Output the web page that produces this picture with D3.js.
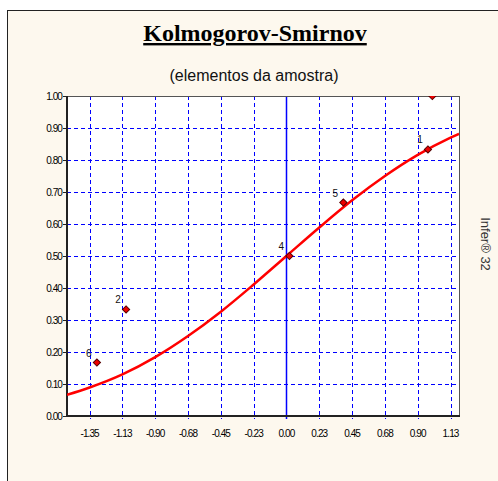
<!DOCTYPE html>
<html lang="en">
    <head>
        <meta charset="utf-8">
        <title>Kolmogorov-Smirnov</title>
        <script type="text/javascript" src="https://d3js.org/d3.v7.min.js"></script>
        <style type="text/css">
            body { margin: 0; background: #ffffff; }
        </style>
    </head>
    <body>
        <script type="text/javascript">

            //Width and height
            var w = 498;
            var h = 481;

            //Data - sample points (label, x, empirical y)
            var pointLabels = ["6", "2", "4", "5", "1", "3"];
            var pointX = [-1.30, -1.10, 0.02, 0.39, 0.97, 1.00];
            var pointY = [0.167, 0.333, 0.500, 0.667, 0.833, 1.000];

            //red curve
            var curveX = [-1.505, -1.35, -1.125, -0.9, -0.675, -0.45, -0.225, 0, 0.225, 0.45, 0.675, 0.9, 1.125, 1.183];
            var curveY = [0.066, 0.089, 0.130, 0.184, 0.250, 0.326, 0.411, 0.500, 0.589, 0.674, 0.750, 0.816, 0.870, 0.882];

            //ticks
            var xTicks = [-1.35, -1.125, -0.9, -0.675, -0.45, -0.225, 0, 0.225, 0.45, 0.675, 0.9, 1.125];
            var xTickLabels = ["-1.35", "-1.13", "-0.90", "-0.68", "-0.45", "-0.23", "0.00", "0.23", "0.45", "0.68", "0.90", "1.13"];
            var yTicks = [0, 0.1, 0.2, 0.3, 0.4, 0.5, 0.6, 0.7, 0.8, 0.9, 1.0];
            var yTickLabels = ["0.00", "0.10", "0.20", "0.30", "0.40", "0.50", "0.60", "0.70", "0.80", "0.90", "1.00"];

            //plot box (careful: "top" is taken by window.top)
            var pL = 67, pR = 459, pT = 96, pB = 416;

            var x = d3.scaleLinear().domain([-1.505, 1.183]).range([pL, pR]);
            var y = d3.scaleLinear().domain([0, 1]).range([pB, pT]);

            //Creates SVG element
            var svg = d3.select("body")
                        .append("svg")
                        .attr("width", w)
                        .attr("height", h);

            //cream background + frame
            svg.append("rect")
                .attr("x", 7.5).attr("y", 10.5)
                .attr("width", w).attr("height", h)
                .attr("fill", "#fdf8ee")
                .attr("stroke", "#222");

            //title
            svg.append("text")
                .attr("x", 255).attr("y", 41)
                .attr("text-anchor", "middle")
                .attr("font-family", "'Liberation Serif', serif")
                .attr("font-weight", "bold")
                .attr("font-size", 24)
                .attr("text-decoration", "underline")
                .attr("fill", "#000")
                .text("Kolmogorov-Smirnov");

            svg.append("text")
                .attr("x", 254).attr("y", 81)
                .attr("text-anchor", "middle")
                .attr("font-family", "'Liberation Sans', Arial, sans-serif")
                .attr("font-size", 16)
                .attr("fill", "#111")
                .text("(elementos da amostra)");

            //side text
            svg.append("text")
                .attr("transform", "translate(481,244) rotate(90)")
                .attr("text-anchor", "middle")
                .attr("font-family", "'Liberation Sans', Arial, sans-serif")
                .attr("font-size", 13)
                .attr("fill", "#333")
                .text("Infer\u00ae 32");

            //plot area
            svg.append("rect")
                .attr("x", pL).attr("y", pT)
                .attr("width", pR - pL).attr("height", pB - pT)
                .attr("fill", "#fff");

            svg.append("clipPath").attr("id", "clip")
                .append("rect")
                .attr("x", pL).attr("y", pT)
                .attr("width", pR - pL).attr("height", pB - pT);

            //grid
            svg.selectAll(".hgrid")
                .data(yTicks.slice(1, -1))
                .enter()
                .append("line")
                .attr("class", "hgrid")
                .attr("x1", pL).attr("x2", pR)
                .attr("y1", function(d) { return Math.round(y(d)) + 0.5; })
                .attr("y2", function(d) { return Math.round(y(d)) + 0.5; })
                .attr("stroke", "#0000ff")
                .attr("stroke-dasharray", "4,3");

            svg.selectAll(".vgrid")
                .data(xTicks)
                .enter()
                .append("line")
                .attr("class", "vgrid")
                .attr("x1", function(d) { return Math.round(x(d)) + 0.5; })
                .attr("x2", function(d) { return Math.round(x(d)) + 0.5; })
                .attr("y1", pT).attr("y2", pB + 3)
                .attr("stroke", "#0000ff")
                .attr("stroke-width", function(d) { return d === 0 ? 1.5 : 1; })
                .attr("stroke-dasharray", function(d) { return d === 0 ? null : "4,3"; });

            //border
            svg.append("rect")
                .attr("x", pL + 0.5).attr("y", pT + 0.5)
                .attr("width", pR - pL).attr("height", pB - pT)
                .attr("fill", "none")
                .attr("stroke", "#555");
            svg.append("line")
                .attr("x1", pL).attr("x2", pL).attr("y1", pT).attr("y2", pB + 1)
                .attr("stroke", "#222").attr("stroke-width", 2);
            svg.append("line")
                .attr("x1", pL).attr("x2", pR + 1).attr("y1", pB).attr("y2", pB)
                .attr("stroke", "#222").attr("stroke-width", 2);

            //y axis ticks and labels
            svg.selectAll(".ytick")
                .data(yTicks)
                .enter()
                .append("line")
                .attr("class", "ytick")
                .attr("x1", pL - 4).attr("x2", pL)
                .attr("y1", function(d) { return Math.round(y(d)) + 0.5; })
                .attr("y2", function(d) { return Math.round(y(d)) + 0.5; })
                .attr("stroke", "#222");

            svg.selectAll(".ylabel")
                .data(yTicks)
                .enter()
                .append("text")
                .attr("class", "ylabel")
                .attr("x", pL - 5)
                .attr("y", function(d) { return y(d) + 3.5; })
                .attr("text-anchor", "end")
                .attr("font-family", "'Liberation Sans', Arial, sans-serif")
                .attr("font-size", 10)
                .attr("letter-spacing", -0.9)
                .attr("fill", "#000")
                .text(function(d, i) { return yTickLabels[i]; });

            svg.selectAll(".xlabel")
                .data(xTicks)
                .enter()
                .append("text")
                .attr("class", "xlabel")
                .attr("x", function(d) { return x(d); })
                .attr("y", 437)
                .attr("text-anchor", "middle")
                .attr("font-family", "'Liberation Sans', Arial, sans-serif")
                .attr("font-size", 10)
                .attr("letter-spacing", -0.9)
                .attr("fill", "#000")
                .text(function(d, i) { return xTickLabels[i]; });

            //curve
            var line = d3.line()
                .x(function(d) { return x(d[0]); })
                .y(function(d) { return y(d[1]); })
                .curve(d3.curveMonotoneX);

            svg.append("path")
                .datum(curveX.map(function(d, i) { return [d, curveY[i]]; }))
                .attr("d", line)
                .attr("clip-path", "url(#clip)")
                .attr("fill", "none")
                .attr("stroke", "#ff0000")
                .attr("stroke-width", 2.5);

            //sample points - small rotated squares
            var pts = pointLabels.map(function(d, i) { return {label: d, x: pointX[i], y: pointY[i]}; });
            var g = svg.append("g").attr("clip-path", "url(#clip)");

            g.selectAll(".pt")
                .data(pts)
                .enter()
                .append("path")
                .attr("class", "pt")
                .attr("d", d3.symbol().type(d3.symbolSquare).size(26))
                .attr("transform", function(d) { return "translate(" + x(d.x) + "," + y(d.y) + ") rotate(45)"; })
                .attr("fill", "#ee0000")
                .attr("stroke", "#500")
                .attr("stroke-width", 1);

            g.selectAll(".ptlabel")
                .data(pts)
                .enter()
                .append("text")
                .attr("class", "ptlabel")
                .attr("x", function(d) { return x(d.x) - 8; })
                .attr("y", function(d) { return y(d.y) - 6; })
                .attr("text-anchor", "middle")
                .attr("font-family", "'Liberation Sans', Arial, sans-serif")
                .attr("font-size", 10)
                .attr("fill", "#111")
                .text(function(d) { return d.label; });
        </script>
    </body>
</html>
